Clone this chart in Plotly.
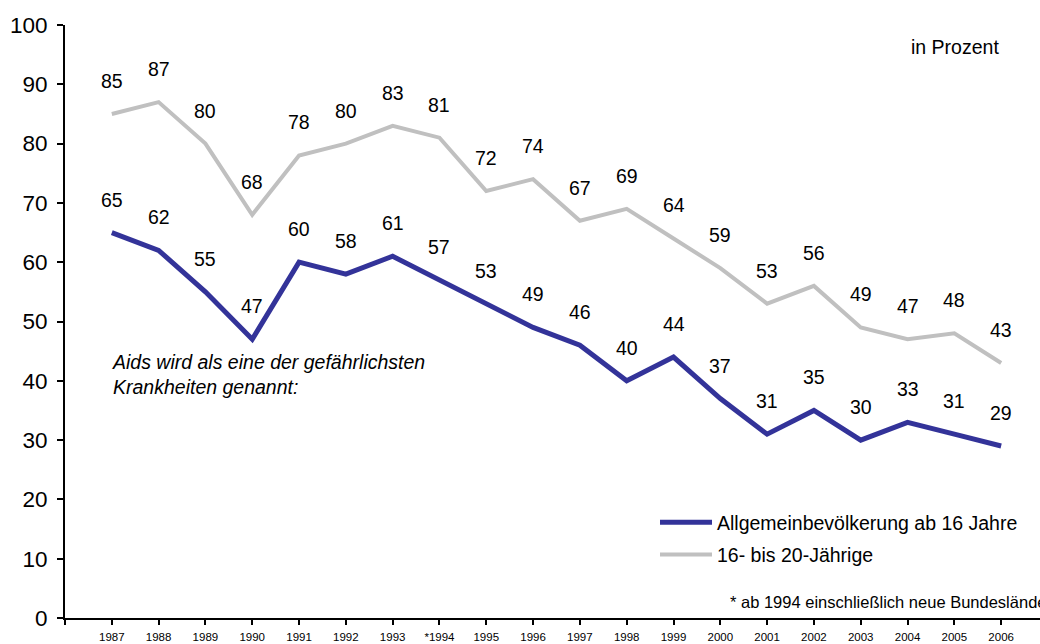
import plotly.graph_objects as go

# Survey years (1994 onwards includes the new federal states)
years = ["1987", "1988", "1989", "1990", "1991", "1992", "1993", "*1994", "1995", "1996",
         "1997", "1998", "1999", "2000", "2001", "2002", "2003", "2004", "2005", "2006"]

# Share naming AIDS as one of the most dangerous diseases, in percent
allgemein = [65, 62, 55, 47, 60, 58, 61, 57, 53, 49, 46, 40, 44, 37, 31, 35, 30, 33, 31, 29]
jugend = [85, 87, 80, 68, 78, 80, 83, 81, 72, 74, 67, 69, 64, 59, 53, 56, 49, 47, 48, 43]

y_ticks = [0, 10, 20, 30, 40, 50, 60, 70, 80, 90, 100]

FONT = "Liberation Sans, Arial, sans-serif"
BLUE = "#333399"
GRAY = "#C0C0C0"

xpos = list(range(len(years)))

fig = go.Figure()
fig.add_trace(go.Scatter(
    x=xpos, y=allgemein, mode="lines", name="Allgemeinbevölkerung ab 16 Jahre",
    line=dict(color=BLUE, width=5), legendgroup="a",
))
fig.add_trace(go.Scatter(
    x=xpos, y=jugend, mode="lines", name="16- bis 20-Jährige",
    line=dict(color=GRAY, width=4), legendgroup="b",
))

annotations = []
for series in (allgemein, jugend):
    for xi, v in zip(xpos, series):
        annotations.append(dict(
            x=xi, y=v, xref="x", yref="y", text=str(v), showarrow=False,
            yshift=33, font=dict(family=FONT, size=19.5, color="#000000"),
        ))

# free text, positioned in pixels and converted to paper coordinates below
free_text = [
    dict(x=1001, y=47, text="in Prozent", xanchor="right",
         font=dict(family=FONT, size=19.5, color="#000000")),
    dict(x=110, y=374, text="<i>Aids wird als eine der gefährlichsten<br>Krankheiten genannt:</i>",
         xanchor="left", align="left",
         font=dict(family=FONT, size=19.5, color="#000000")),
    dict(x=728, y=602, text="* ab 1994 einschließlich neue Bundesländer", xanchor="left",
         font=dict(family=FONT, size=16.5, color="#000000")),
]

L, R, T, B = 65, 0, 25, 26
W, H = 1040, 644
pw, ph = W - L - R, H - T - B
for a in free_text:
    a["x"] = (a["x"] - L) / pw
    a["y"] = (H - B - a["y"]) / ph
    a.update(xref="paper", yref="paper", showarrow=False, yanchor="middle")
annotations += free_text

fig.update_layout(
    width=W, height=H,
    margin=dict(l=L, r=R, t=T, b=B),
    paper_bgcolor="white", plot_bgcolor="white",
    font=dict(family=FONT, color="#000000"),
    showlegend=True,
    legend=dict(
        x=(655 - L) / pw, y=(H - B - 503) / ph, xanchor="left", yanchor="top",
        font=dict(family=FONT, size=19.5, color="#000000"),
        bgcolor="rgba(0,0,0,0)", itemwidth=52, traceorder="grouped",
        tracegroupgap=4,
    ),
    annotations=annotations,
    xaxis=dict(
        range=[-1, 19.83], tickmode="array",
        tickvals=[-1] + xpos, ticktext=[""] + years,
        showgrid=False, zeroline=False, showline=True, linecolor="#000000", linewidth=2,
        ticks="outside", ticklen=5, tickwidth=1.5, tickcolor="#000000",
        ticklabelstandoff=2,
        tickfont=dict(family=FONT, size=11.5, color="#000000"),
    ),
    yaxis=dict(
        range=[0, 100], tickmode="array", tickvals=y_ticks,
        showgrid=False, zeroline=False, showline=True, linecolor="#000000", linewidth=2,
        ticks="outside", ticklen=6, tickwidth=1.5, tickcolor="#000000",
        ticklabelstandoff=5,
        tickfont=dict(family=FONT, size=22.5, color="#000000"),
    ),
)

fig.write_html("out.html")
